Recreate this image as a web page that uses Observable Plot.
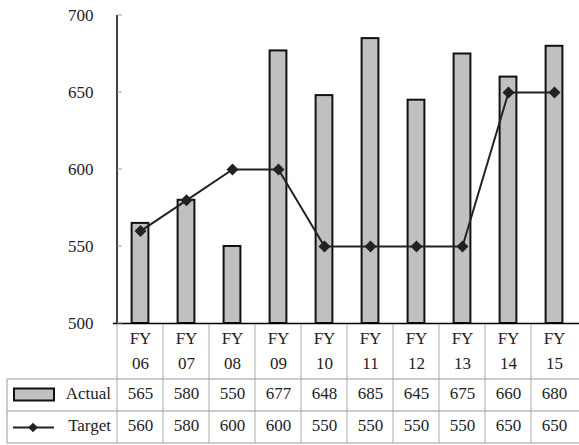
<!DOCTYPE html>
<html>
<head>
<meta charset="utf-8">
<script src="https://cdn.jsdelivr.net/npm/d3@7"></script>
<script src="https://cdn.jsdelivr.net/npm/@observablehq/plot@0.6"></script>
<style>
  html, body { margin: 0; padding: 0; background: #fff; }
  svg { overflow: visible; }
  #chart svg, #chart svg text { font-family: "Liberation Serif", "Times New Roman", serif !important; }
</style>
</head>
<body>
<div id="chart"></div>
<script>
// ---- data ----
const prefix = "FY";
const years = ["06", "07", "08", "09", "10", "11", "12", "13", "14", "15"];
const categories = years.map(y => prefix + " " + y);
const actual = [565, 580, 550, 677, 648, 685, 645, 675, 660, 680];
const target = [560, 580, 600, 600, 550, 550, 550, 550, 650, 650];
const yTicks = [500, 550, 600, 650, 700];
const rowLabels = ["Actual", "Target"];
const yMin = 500, yMax = 700;

const data = categories.map((c, i) => ({cat: c, pre: prefix, yr: years[i], actual: actual[i], target: target[i]}));

const FONT = "'Liberation Serif', 'Times New Roman', serif";
const TXT = "#222";
const FS = 17;

const chart = Plot.plot({
  width: 579,
  height: 445,
  marginLeft: 113,
  marginRight: -2,
  marginTop: 15,
  marginBottom: 122,
  style: {fontFamily: FONT, fontSize: FS + "px", color: TXT, background: "white"},
  x: {domain: categories, padding: 0, axis: null},
  y: {domain: [yMin, yMax], ticks: yTicks},
  marks: [
    Plot.axisY({ticks: yTicks, tickSize: 0, tickPadding: 20, label: null, fontSize: FS, fontFamily: FONT, fill: TXT}),
    Plot.barY(data, {x: "cat", y1: () => yMin, y2: "actual", fill: "#c0c0c0", stroke: "#111", strokeWidth: 2, insetLeft: 14.6, insetRight: 14.6}),
    Plot.ruleY([yMin], {stroke: "#000", strokeWidth: 1.5}),
    Plot.line(data, {x: "cat", y: "target", stroke: "#222", strokeWidth: 2}),
    Plot.dot(data, {x: "cat", y: "target", symbol: "diamond2", r: 5.4, fill: "#222", stroke: "none"}),
    // table text
    Plot.text(data, {x: "cat", text: "pre", frameAnchor: "bottom", lineAnchor: "middle", dy: 15, fill: TXT, fontSize: FS, fontFamily: FONT}),
    Plot.text(data, {x: "cat", text: "yr", frameAnchor: "bottom", lineAnchor: "middle", dy: 40, fill: TXT, fontSize: FS, fontFamily: FONT}),
    Plot.text(data, {x: "cat", text: "actual", frameAnchor: "bottom", lineAnchor: "middle", dy: 70.5, fill: TXT, fontSize: FS, fontFamily: FONT}),
    Plot.text(data, {x: "cat", text: "target", frameAnchor: "bottom", lineAnchor: "middle", dy: 102.5, fill: TXT, fontSize: FS, fontFamily: FONT})
  ]
});

document.getElementById("chart").appendChild(chart);

// ---- frame, ticks and table grid drawn with Plot's scales ----
const xs = chart.scale("x");
const ys = chart.scale("y");
const svg = d3.select(chart);
const g = svg.append("g");

const x0 = xs.apply(categories[0]);
const yTop = ys.apply(yMax), yBase = ys.apply(yMin);
const rowA = yBase + 56, rowB = yBase + 88, rowEnd = yBase + 120;
const tableLeft = 7;

// y axis line
g.append("line").attr("x1", x0).attr("x2", x0).attr("y1", yTop).attr("y2", yBase)
  .attr("stroke", "#000").attr("stroke-width", 1.5);
// inward ticks
yTicks.forEach(t => {
  g.append("line").attr("x1", x0).attr("x2", x0 + 5).attr("y1", ys.apply(t)).attr("y2", ys.apply(t))
    .attr("stroke", "#999").attr("stroke-width", 1);
});
// table verticals
categories.forEach(c => {
  const xx = xs.apply(c);
  g.append("line").attr("x1", xx).attr("x2", xx).attr("y1", yBase + 1).attr("y2", rowEnd)
    .attr("stroke", "#aaa").attr("stroke-width", 1);
});
g.append("line").attr("x1", tableLeft).attr("x2", tableLeft).attr("y1", rowA).attr("y2", rowEnd)
  .attr("stroke", "#999").attr("stroke-width", 1);
// table horizontals
[rowA, rowB, rowEnd].forEach(yy => {
  g.append("line").attr("x1", tableLeft).attr("x2", 579).attr("y1", yy).attr("y2", yy)
    .attr("stroke", "#999").attr("stroke-width", 1);
});
// row labels
const labX = x0 - 6;
[rowA, rowB].forEach((yy, i) => {
  g.append("text").attr("x", labX).attr("y", yy + 14.5).attr("dy", "0.32em")
    .attr("text-anchor", "end").attr("fill", TXT)
    .style("font-family", FONT).style("font-size", FS + "px").text(rowLabels[i]);
});
// legend keys
g.append("rect").attr("x", 14).attr("y", rowA + 9.5).attr("width", 40).attr("height", 12)
  .attr("fill", "#c0c0c0").attr("stroke", "#111").attr("stroke-width", 2);
g.append("line").attr("x1", 13).attr("x2", 54).attr("y1", rowB + 16.5).attr("y2", rowB + 16.5)
  .attr("stroke", "#222").attr("stroke-width", 2);
g.append("path").attr("d", d3.symbol(d3.symbolDiamond2, 60)())
  .attr("transform", `translate(33,${rowB + 16.5})`).attr("fill", "#222");
</script>
</body>
</html>
